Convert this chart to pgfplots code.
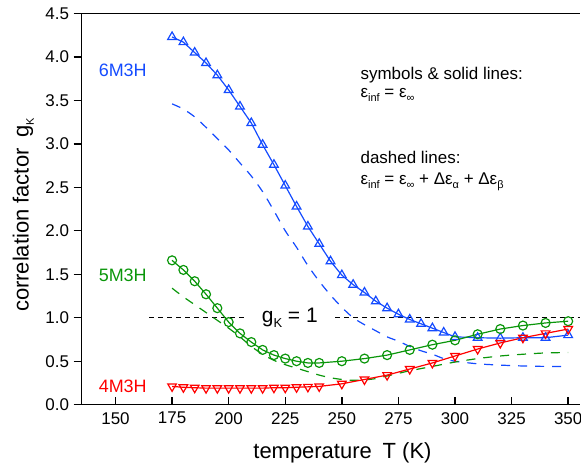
\documentclass[border=0pt]{standalone}
\usepackage{pgfplots}
\pgfplotsset{compat=1.18}
\usepackage{fontspec}
\setmainfont{Liberation Sans}
\definecolor{cblue}{RGB}{20,75,255}
\definecolor{cgreen}{RGB}{10,150,10}
\definecolor{cred}{RGB}{255,0,0}
\newcommand{\fs}[1]{\fontsize{#1}{#1}\selectfont}
\newcommand{\sub}[1]{\raisebox{-0.45ex}{\fs{11}#1}}
\begin{document}
\begin{tikzpicture}
\begin{axis}[name=ax, scale only axis, width=499pt, height=392pt,
  xmin=135, xmax=355, ymin=0, ymax=4.5,
  axis x line=box, axis y line=left,
  axis line style={-, line width=1.6pt},
  xtick pos=bottom, ytick pos=left,
  xtick={150,175,...,350}, ytick={0,0.5,...,4.5},
  tick align=inside, major tick length=8pt,
  tick style={line width=1.4pt, black},
  y tick style={xshift=-8pt},
  /pgf/number format/assume math mode=true,
  yticklabel style={/pgf/number format/fixed, /pgf/number format/fixed zerofill, /pgf/number format/precision=1, xshift=-9pt},
  xticklabel style={yshift=-4pt},
  ticklabel style={font=\fs{17}},
  xlabel={temperature\hspace{0.5em}T (K)},
  ylabel={correlation factor\hspace{0.5em}g\sub{K}},
  label style={font=\fs{22}},
  xlabel style={at={(axis description cs:0.524,-0.1385)}, anchor=base},
  ylabel style={at={(axis description cs:-0.117,0.485)}, anchor=center},
  clip=false,
]
% reference line g_K = 1
\addplot[black, line width=0.8pt, dash pattern=on 5pt off 4pt] coordinates {(165,1) (208,1)};
\addplot[black, line width=0.8pt, dash pattern=on 5pt off 4pt] coordinates {(247,1) (355,1)};
% dashed lines
\addplot[cblue, line width=1.2pt, dash pattern=on 9pt off 8pt, smooth] coordinates {
(175,3.46) (180,3.40) (185,3.31) (190,3.19) (195,3.06) (200,2.93) (205,2.78) (210,2.63) (215,2.45) (220,2.23) (225,2.00) (230,1.81) (235,1.60) (240,1.42) (245,1.26) (250,1.12) (255,1.00) (260,0.92) (265,0.85) (270,0.78) (275,0.73) (280,0.67) (285,0.62) (290,0.58) (295,0.53) (300,0.50) (310,0.47) (320,0.455) (330,0.445) (340,0.44) (350,0.44)};
\addplot[cgreen, line width=1.2pt, dash pattern=on 9pt off 8pt, smooth] coordinates {
(175,1.34) (180,1.24) (185,1.15) (190,1.06) (195,0.97) (200,0.88) (205,0.78) (210,0.67) (215,0.58) (220,0.51) (225,0.46) (230,0.42) (235,0.38) (240,0.34) (245,0.31) (250,0.29) (255,0.28) (260,0.285) (265,0.30) (270,0.33) (275,0.36) (280,0.39) (290,0.44) (300,0.49) (310,0.53) (320,0.56) (330,0.58) (340,0.595) (350,0.60)};
% 6M3H
\addplot[cblue, line width=1.2pt, mark=triangle, mark size=5pt, mark options={solid, fill=white, line width=1.2pt}] coordinates {
(175,4.23) (180,4.17) (185,4.05) (190,3.93) (195,3.79) (200,3.62) (205,3.43) (210,3.24) (215,2.99) (220,2.76) (225,2.52) (230,2.28) (235,2.05) (240,1.85) (245,1.65) (250,1.49) (255,1.38) (260,1.29) (265,1.19) (270,1.11) (275,1.04) (280,0.98) (285,0.93) (290,0.88) (295,0.83) (300,0.78) (310,0.77) (320,0.765) (330,0.77) (340,0.77) (350,0.80)};
% 5M3H
\addplot[cgreen, line width=1.2pt, mark=o, mark size=4.5pt, mark options={solid, fill=white, line width=1.2pt}] coordinates {
(175,1.66) (180,1.55) (185,1.42) (190,1.27) (195,1.11) (200,0.95) (205,0.82) (210,0.72) (215,0.63) (220,0.57) (225,0.53) (230,0.50) (235,0.48) (240,0.48) (250,0.50) (260,0.53) (270,0.57) (280,0.63) (290,0.69) (300,0.74) (310,0.81) (320,0.87) (330,0.91) (340,0.94) (350,0.96)};
% 4M3H
\addplot[cred, line width=1.2pt, mark=triangle, mark size=5pt, mark options={solid, fill=white, line width=1.2pt, rotate=180}] coordinates {
(175,0.21) (180,0.20) (185,0.195) (190,0.19) (195,0.19) (200,0.19) (205,0.19) (210,0.19) (215,0.19) (220,0.195) (225,0.195) (230,0.20) (235,0.205) (240,0.21) (250,0.24) (260,0.29) (270,0.34) (280,0.41) (290,0.48) (300,0.56) (310,0.64) (320,0.71) (330,0.77) (340,0.82) (350,0.87)};
% labels
\node[cblue, font=\fs{18}] at (axis cs:153.2,3.85) {6M3H};
\node[cgreen, font=\fs{18}] at (axis cs:153.2,1.49) {5M3H};
\node[cred, font=\fs{18}] at (axis cs:153.2,0.21) {4M3H};
\node[font=\fs{21}] at (axis cs:227,1.0) {g\raisebox{-0.5ex}{\fs{13}K} = 1};
\node[anchor=west, inner sep=0pt, font=\fs{17}] at (axis cs:258.2,3.79) {symbols \& solid lines:};
\node[anchor=west, inner sep=0pt, font=\fs{17}] at (axis cs:258.2,3.56) {ε\sub{inf} = ε\sub{∞}};
\node[anchor=west, inner sep=0pt, font=\fs{17}] at (axis cs:258.2,2.84) {dashed lines:};
\node[anchor=west, inner sep=0pt, font=\fs{17}] at (axis cs:258.2,2.565) {ε\sub{inf} = ε\sub{∞} + Δε\sub{α} + Δε\sub{β}};
\end{axis}
\pgfresetboundingbox
\path[use as bounding box] ([xshift=-81.7pt,yshift=-62.3pt]ax.south west) rectangle ([xshift=1.5pt,yshift=13.5pt]ax.north east);
\end{tikzpicture}
\end{document}
